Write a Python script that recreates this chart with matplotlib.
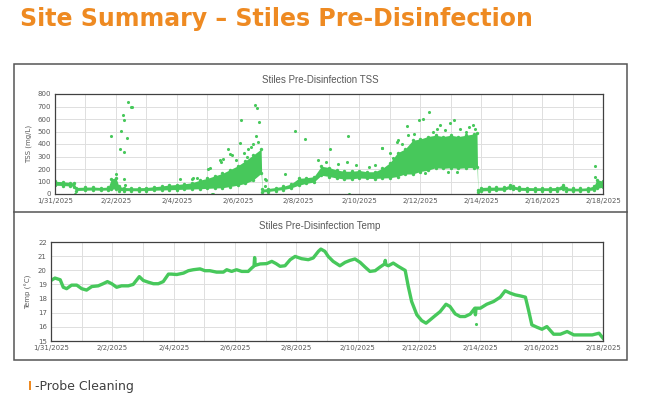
import datetime as dt
import matplotlib
matplotlib.use("Agg")
import matplotlib.pyplot as plt
import matplotlib.dates as mdates
from matplotlib.patches import Rectangle

W, H = 648, 397
GREEN = "#47C85B"
ORANGE = "#EE8A22"
GRID = "#DEDEDE"
TXT = "#595959"

START = dt.datetime(2025, 1, 31)

title = "Site Summary \u2013 Stiles Pre-Disinfection"
tss_title = "Stiles Pre-Disinfection TSS"
temp_title = "Stiles Pre-Disinfection Temp"
note = "-Probe Cleaning"

tick_labels = ["1/31/2025", "2/2/2025", "2/4/2025", "2/6/2025", "2/8/2025",
               "2/10/2025", "2/12/2025", "2/14/2025", "2/16/2025", "2/18/2025"]

# TSS cloud, days since 1/31: lower / upper edge of the dense band
tss_days = [0, 0.25, 0.5, 0.64, 0.68, 1.0, 1.25, 1.5, 1.75, 1.85,
            2.0, 2.1, 2.25, 2.5, 2.75, 3.0, 3.25, 3.5, 3.75, 4.0,
            4.25, 4.5, 4.75, 5.0, 5.25, 5.5, 5.75, 6.0, 6.25, 6.5,
            6.77, 6.8, 7.0, 7.25, 7.5, 7.75, 8.0, 8.25, 8.5, 8.75,
            9.0, 9.25, 9.5, 9.75, 10.0, 10.25, 10.5, 10.75, 11.0, 11.25,
            11.5, 11.75, 12.0, 12.25, 12.5, 12.75, 13.0, 13.25, 13.5, 13.75,
            13.86, 13.89, 14.0, 14.25, 14.5, 14.75, 14.95, 15.05, 15.25, 15.5,
            15.75, 16.0, 16.25, 16.5, 16.7, 16.8, 17.0, 17.25, 17.5, 17.7,
            17.8, 18.0]
tss_low = [70, 68, 64, 60, 28, 30, 32, 30, 32, 38,
           42, 28, 28, 26, 26, 28, 30, 32, 34, 36,
           38, 40, 42, 45, 48, 50, 60, 70, 85, 110,
           165, 16, 20, 28, 36, 48, 70, 85, 95, 150,
           140, 128, 120, 122, 128, 125, 124, 128, 130, 140,
           160, 160, 180, 190, 210, 205, 210, 205, 210, 210,
           220, 16, 24, 28, 30, 30, 45, 40, 30, 28,
           28, 28, 27, 28, 40, 28, 25, 25, 28, 32,
           45, 55]
tss_high = [102, 98, 92, 88, 52, 55, 56, 52, 55, 120,
            130, 62, 52, 50, 50, 52, 58, 64, 72, 76,
            82, 90, 110, 125, 145, 165, 195, 225, 265, 310,
            360, 38, 44, 52, 62, 80, 125, 130, 138, 222,
            212, 192, 182, 182, 188, 178, 178, 205, 250, 330,
            360, 430, 440, 460, 470, 460, 470, 460, 470, 480,
            490, 34, 52, 55, 55, 55, 72, 64, 54, 52,
            50, 50, 50, 52, 76, 50, 46, 46, 50, 64,
            115, 102]

# isolated TSS readings outside the band
out_days = [0.66, 1.84, 2.0, 2.13, 2.16, 2.22, 2.25, 2.28, 2.38, 2.40,
            2.49, 2.52, 2.26, 2.31, 4.1, 4.54, 5.03, 5.16, 5.41, 5.46,
            5.68, 5.76, 5.83, 6.1, 6.09, 6.57, 6.62, 6.71, 6.61, 6.5,
            6.34, 6.94, 6.91, 7.57, 7.88, 8.22, 8.63, 9.04, 9.58, 9.64,
            9.67, 10.73, 11.96, 12.3, 12.65, 12.98, 13.09, 13.73, 11.61, 11.23,
            12.54, 17.75, 17.75, 5.53, 5.1, 4.66, 4.5, 6.9, 5.2, 6.2,
            6.45, 6.66, 5.95, 6.3, 10.75, 11.0, 11.25, 11.55, 12.09, 11.4,
            11.8, 12.4, 12.8, 13.3, 13.5, 13.6, 13.8, 11.1, 10.5, 10.3,
            9.9, 9.3, 8.9, 12.15, 12.9, 13.2]
out_vals = [0, 463, 160, 361, 503, 634, 594, 334, 452, 739,
            696, 693, 120, 72, 120, 125, 200, 0, 270, 260,
            360, 320, 310, 590, 410, 712, 690, 575, 465, 400,
            360, 115, 65, 160, 505, 440, 275, 358, 260, 465,
            0, 367, 594, 653, 554, 567, 589, 554, 470, 420,
            520, 227, 140, 280, 205, 125, 120, 120, 0, 330,
            380, 420, 270, 300, 371, 330, 430, 547, 600, 400,
            480, 500, 510, 520, 500, 540, 520, 290, 230, 215,
            230, 240, 260, 170, 180, 180]

# water temperature (deg C)
temp_days = [0.0, 0.13, 0.3, 0.4, 0.51, 0.67, 0.84, 1.0, 1.16, 1.33,
             1.54, 1.7, 1.84, 1.98, 2.14, 2.3, 2.52, 2.68, 2.88, 3.01,
             3.17, 3.34, 3.5, 3.66, 3.83, 3.93, 4.1, 4.32, 4.48, 4.64,
             4.86, 5.02, 5.18, 5.4, 5.62, 5.73, 5.89, 6.05, 6.22, 6.43,
             6.54, 6.62, 6.64, 6.66, 6.82, 7.03, 7.2, 7.34, 7.47, 7.63,
             7.8, 7.96, 8.17, 8.39, 8.55, 8.72, 8.8, 8.93, 9.04, 9.2,
             9.42, 9.59, 9.75, 9.91, 10.08, 10.24, 10.4, 10.57, 10.73, 10.88,
             10.9, 10.92, 11.0, 11.16, 11.33, 11.55, 11.65, 11.76, 11.93, 12.09,
             12.23, 12.36, 12.52, 12.69, 12.88, 13.01, 13.18, 13.34, 13.5, 13.67,
             13.82, 13.84, 13.86, 14.0, 14.21, 14.43, 14.65, 14.81, 14.98, 15.14,
             15.3, 15.47, 15.57, 15.68, 15.85, 16.01, 16.17, 16.39, 16.61, 16.83,
             17.05, 17.38, 17.65, 17.87, 18.0]
temp_vals = [19.28, 19.45, 19.33, 18.8, 18.7, 18.95, 18.95, 18.7, 18.6, 18.85,
             18.9, 19.05, 19.2, 19.05, 18.8, 18.9, 18.9, 19.0, 19.55, 19.28,
             19.16, 19.05, 19.05, 19.2, 19.73, 19.73, 19.7, 19.8, 19.97, 20.04,
             20.1, 19.97, 19.97, 19.87, 19.87, 20.04, 19.92, 20.04, 19.92, 19.92,
             20.15, 20.3, 20.9, 20.35, 20.45, 20.47, 20.63, 20.47, 20.28, 20.32,
             20.75, 20.98, 20.82, 20.75, 20.87, 21.34, 21.5, 21.34, 20.98, 20.63,
             20.32, 20.56, 20.7, 20.8, 20.56, 20.23, 19.92, 19.97, 20.23, 20.45,
             20.7, 20.4, 20.32, 20.51, 20.27, 19.99, 18.86, 17.79, 16.85, 16.44,
             16.26, 16.49, 16.78, 17.08, 17.6, 17.44, 16.92, 16.73, 16.73, 16.9,
             17.32, 16.85, 17.32, 17.32, 17.6, 17.79, 18.1, 18.55, 18.38, 18.26,
             18.19, 18.1, 17.2, 16.14, 15.97, 15.83, 16.02, 15.48, 15.48, 15.67,
             15.43, 15.43, 15.43, 15.55, 15.2]
temp_out_days = [13.86]
temp_out_vals = [16.2]


def to_dates(days):
    return [START + dt.timedelta(days=d) for d in days]


def px_rect(x0, y0, x1, y1):
    # pixel box (top-left origin) -> figure fraction
    return [x0 / W, 1 - y1 / H, (x1 - x0) / W, (y1 - y0) / H]


def style_axes(ax, ylabel):
    ax.set_xlim(START, START + dt.timedelta(days=18))
    ax.set_xticks(mdates.date2num(to_dates(range(0, 19, 2))))
    ax.set_xticklabels(tick_labels)
    ax.xaxis.set_minor_locator(mdates.DayLocator())
    ax.grid(True, which="both", color=GRID, lw=0.7)
    ax.set_axisbelow(True)
    ax.tick_params(which="both", length=0, labelsize=5, colors=TXT, pad=3)
    ax.set_ylabel(ylabel, fontsize=5, color=TXT, labelpad=4)
    for s in ax.spines.values():
        s.set_color("#404040")
        s.set_linewidth(0.9)


fig = plt.figure(figsize=(W / 100, H / 100), dpi=100)
fig.patch.set_facecolor("white")

# chart frame
fig.add_artist(Rectangle((14 / W, 1 - 360 / H), 613 / W, 296 / H, transform=fig.transFigure,
                         fill=False, ec="#555555", lw=1.1))
fig.add_artist(plt.Line2D([14 / W, 627 / W], [1 - 212 / H, 1 - 212 / H],
                          transform=fig.transFigure, color="#555555", lw=1.1))

# TSS
ax1 = fig.add_axes(px_rect(55, 94, 603, 194))
d = to_dates(tss_days)
ax1.fill_between(d, tss_low, tss_high, color=GREEN, lw=0)
ax1.scatter(d, tss_low, s=6, color=GREEN, lw=0)
ax1.scatter(d, tss_high, s=6, color=GREEN, lw=0)
ax1.scatter(to_dates(out_days), out_vals, s=5, color=GREEN, lw=0)
ax1.set_ylim(0, 800)
ax1.set_yticks(range(0, 801, 100))
style_axes(ax1, "TSS (mg/L)")
fig.text(320 / W, 1 - 80 / H, tss_title, ha="center", va="center", fontsize=7, color=TXT,
         family="Liberation Sans")

# temperature
ax2 = fig.add_axes(px_rect(51, 242, 603, 341))
ax2.plot(to_dates(temp_days), temp_vals, color=GREEN, lw=2.4, solid_joinstyle="round")
ax2.scatter(to_dates(temp_out_days), temp_out_vals, s=5, color=GREEN, lw=0)
ax2.set_ylim(15, 22)
ax2.set_yticks(range(15, 23))
style_axes(ax2, "Temp (\u00b0C)")
fig.text(320 / W, 1 - 226 / H, temp_title, ha="center", va="center", fontsize=7, color=TXT,
         family="Liberation Sans")

# slide title, scaled to the reference width
t = fig.text(20 / W, 1 - 26 / H, title, fontsize=18, fontweight="bold", color=ORANGE,
             va="baseline")
fig.canvas.draw()
bb = t.get_window_extent(fig.canvas.get_renderer())
t.set_fontsize(18 * 513 / bb.width)

# footnote
fig.add_artist(Rectangle((29 / W, 1 - 390 / H), 2.5 / W, 9 / H, transform=fig.transFigure,
                         color=ORANGE, lw=0))
fig.text(35 / W, 1 - 390 / H, note, fontsize=9, color="#404040", va="baseline")

fig.savefig("out.png", dpi=100)
